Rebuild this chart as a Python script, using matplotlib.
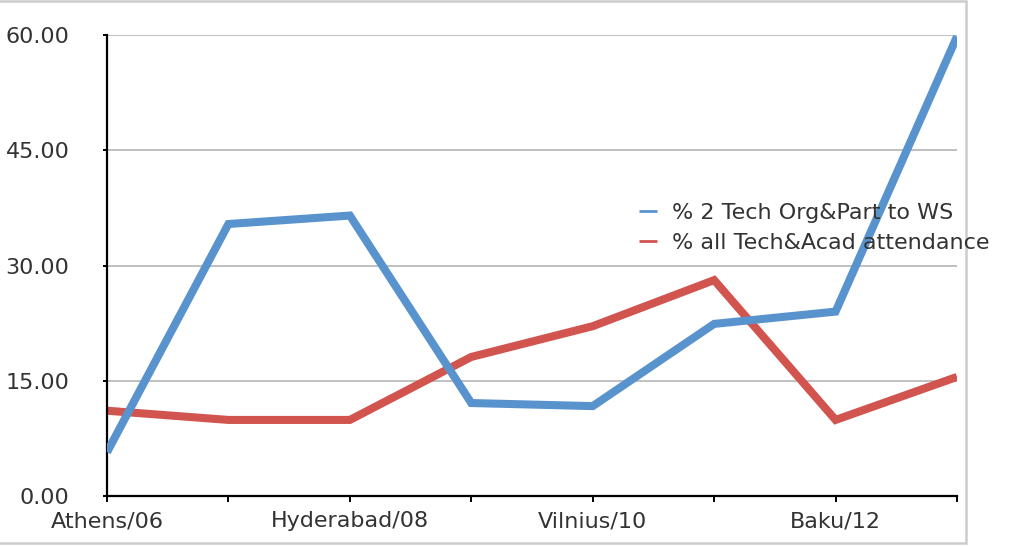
import matplotlib.pyplot as plt
from matplotlib.patches import Rectangle

plt.rcParams["font.family"] = ["DejaVu Sans"]

categories = ["Athens/06", "", "Hyderabad/08", "", "Vilnius/10", "", "Baku/12", ""]
tech_org_part = [5.7, 35.4, 36.5, 12.1, 11.7, 22.4, 24.0, 59.8]
tech_acad_att = [11.1, 9.9, 9.9, 18.1, 22.1, 28.1, 9.9, 15.5]
y_ticks = [0, 15, 30, 45, 60]

BLUE = "#5993CE"
RED = "#D2544F"
TEXT = "#333333"

fig = plt.figure(figsize=(10.12, 5.46), dpi=100)
ax = fig.add_axes([107 / 1012, 1 - 496 / 546, 850 / 1012, 461 / 546])

x = list(range(len(categories)))
ax.plot(x, tech_org_part, color=BLUE, lw=5.8, solid_capstyle="butt",
        solid_joinstyle="miter", label="% 2 Tech Org&Part to WS", zorder=3)
ax.plot(x, tech_acad_att, color=RED, lw=5.8, solid_capstyle="butt",
        solid_joinstyle="miter", label="% all Tech&Acad attendance", zorder=2)

ax.set_xlim(0, len(categories) - 1)
ax.set_ylim(0, 60)
ax.set_xticks(x)
ax.set_xticklabels(categories)
ax.set_yticks(y_ticks)
ax.set_yticklabels([f"{v:.2f}" for v in y_ticks])
ax.yaxis.grid(True, color="#bbbbbb", lw=1.3)
ax.set_axisbelow(True)

for side in ["top", "right"]:
    ax.spines[side].set_visible(False)
for side in ["left", "bottom"]:
    ax.spines[side].set_linewidth(1.6)
    ax.spines[side].set_color("black")

ax.tick_params(axis="x", direction="out", length=4, width=1.4,
               labelsize=16, labelcolor=TEXT, pad=7)
ax.tick_params(axis="y", direction="out", length=3, width=1.4,
               labelsize=16, labelcolor=TEXT, pad=24)

leg = fig.legend(loc="upper left", bbox_to_anchor=(630 / 1012, 1 - 194 / 546),
                 frameon=False, fontsize=16, handlelength=0.8, handletextpad=0.7,
                 labelspacing=0.45, labelcolor=TEXT, borderaxespad=0)
for h in leg.legend_handles:
    h.set_linewidth(2.0)

# light grey frame around the chart area (left edge sits off the canvas)
fig.patches.append(Rectangle((-0.01, 3 / 546), 976 / 1012, 542 / 546,
                             transform=fig.transFigure, fill=False,
                             edgecolor="#cccccc", lw=1.8, zorder=0))

fig.savefig("out.png", dpi=100, facecolor="white")
